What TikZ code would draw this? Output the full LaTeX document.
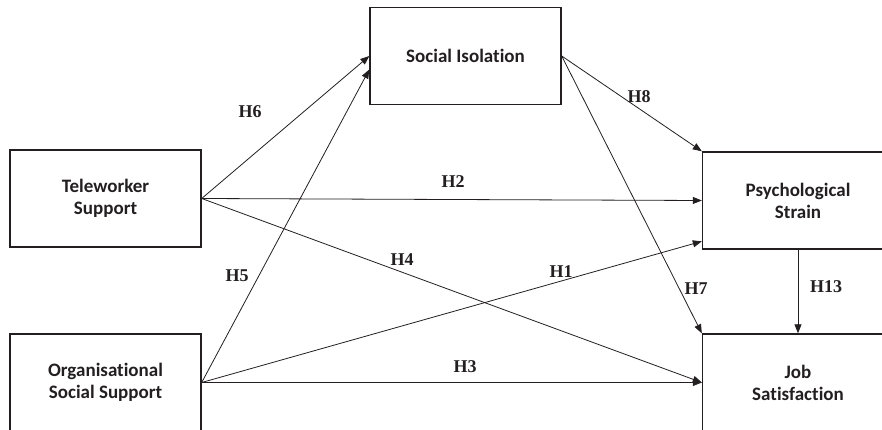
\documentclass[tikz,border=0pt]{standalone}
\usepackage{fontspec}
\setmainfont{Liberation Serif}
\newfontfamily\boxfont[RawFeature={-liga,-calt}]{Carlito}
\usetikzlibrary{arrows.meta,shapes}

\begin{document}
\begin{tikzpicture}[x=1pt,y=-1pt,>={Triangle[length=9pt,width=7pt]}]
    \definecolor{myink}{RGB}{35,31,32}

    \tikzstyle{construct}=[rectangle,draw=myink,line width=1.4pt,minimum width=191pt,minimum height=97pt,inner sep=0pt,align=center,text=myink,font=\boxfont\bfseries\fontsize{19pt}{22pt}\selectfont]  % boxes of the model
    \tikzstyle{hyp}=[text=myink,font=\bfseries\fontsize{18pt}{20pt}\selectfont]  % hypothesis labels
    \tikzstyle{link}=[draw=myink,line width=0.8pt]  % paths between boxes

    \useasboundingbox (0,0) rectangle (882,430);

    % boxes
    \node[construct](tele) at (105.5,198.5){Teleworker\\Support};
    \node[construct,below of=tele,node distance=184pt](org){Organisational\\Social Support};
    \node[construct](iso) at (465.5,56){Social Isolation};
    \node[construct](strain) at (798,200.5){Psychological\\Strain};
    \node[construct,below of=strain,node distance=182pt](jobsat){Job\\Satisfaction};

    % paths
    \draw[->,link](tele.east)--(iso.west);
    \draw[->,link](org.east)--(iso.188);
    \draw[->,link](tele.east)--(strain.west);
    \draw[->,link](tele.east)--(jobsat.west);
    \draw[->,link](org.east)--(strain.203);
    \draw[->,link](org.east)--(jobsat.west);
    \draw[->,link](iso.east)--(strain.north west);
    \draw[->,link](iso.east)--(jobsat.north west);
    \draw[->,link](strain.south)--(jobsat.north);

    % labels
    \node[hyp](h6) at (250,112){H6};
    \node[hyp](h2) at (453,182){H2};
    \node[hyp](h8) at (639,97){H8};
    \node[hyp](h5) at (237,276){H5};
    \node[hyp](h4) at (402,260){H4};
    \node[hyp](h1) at (561,272){H1};
    \node[hyp](h7) at (696,289){H7};
    \node[hyp](h13) at (826,287){H13};
    \node[hyp](h3) at (465,367){H3};
\end{tikzpicture}
\end{document}
